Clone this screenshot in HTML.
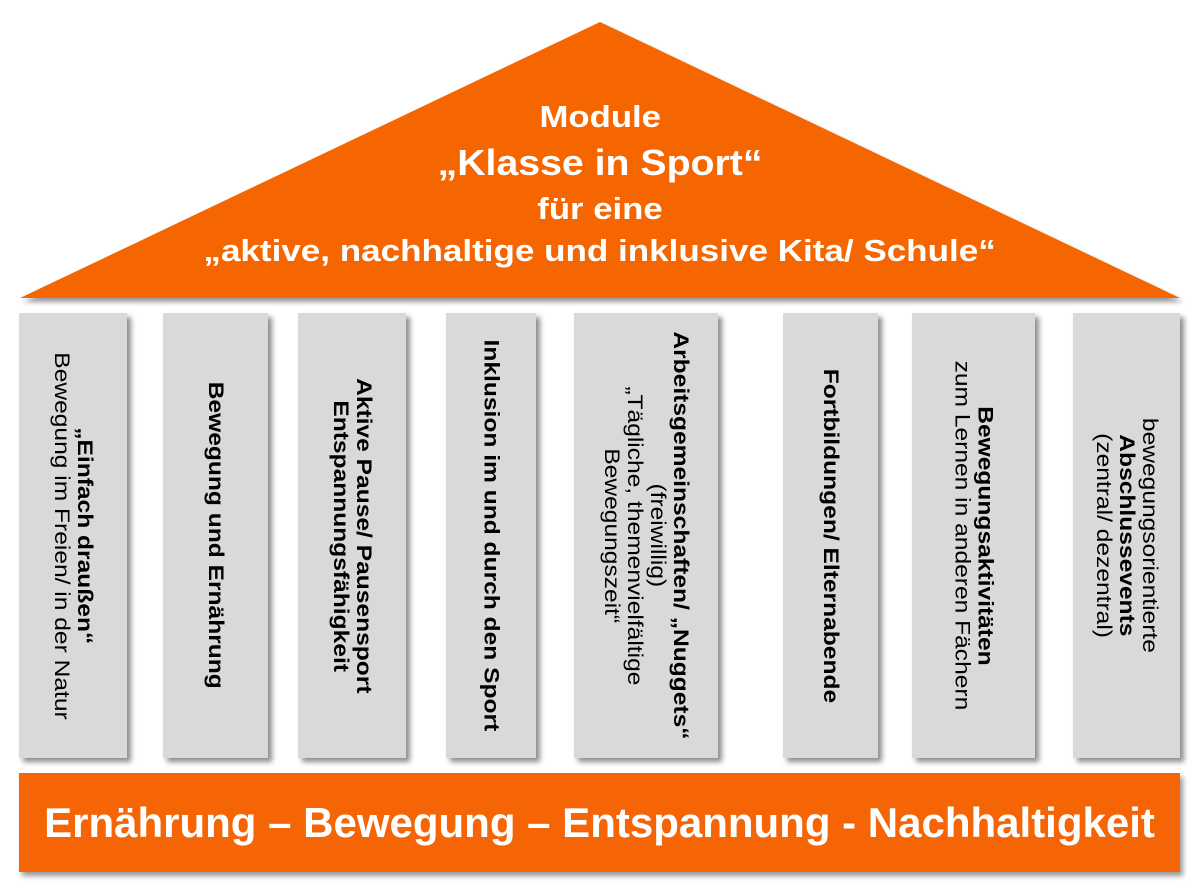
<!DOCTYPE html>
<html><head><meta charset="utf-8"><style>
html,body{margin:0;padding:0;background:#fff;width:1200px;height:892px;overflow:hidden;font-family:"Liberation Sans",Arial,sans-serif}
.roof{position:absolute;left:0;top:0}
.rt{position:absolute;left:0;width:1200px;text-align:center;color:#fff;font-weight:bold;white-space:nowrap}
.rt span{display:inline-block}
.p{position:absolute;top:313px;height:445px;background:#d9d9d9;box-shadow:4px 4px 5px rgba(0,0,0,0.45);display:flex;align-items:center;justify-content:center}
.v{writing-mode:vertical-rl;font-size:21px;line-height:23px;text-align:center;color:#000;white-space:nowrap;transform:scaleY(1.17)}
.b{font-weight:bold}
.base{position:absolute;left:19px;top:773px;width:1161px;height:99px;background:#f56505;box-shadow:3px 4px 5px rgba(0,0,0,0.4);color:#fff;font-weight:bold;font-size:42px;display:flex;align-items:center;justify-content:center;white-space:nowrap}
</style></head><body>
<svg class="roof" width="1200" height="310">
<defs><filter id="s" x="-5%" y="-5%" width="110%" height="120%"><feDropShadow dx="3" dy="4" stdDeviation="2.5" flood-color="#000" flood-opacity="0.4"/></filter></defs>
<polygon points="600,22 1180,298 20,298" fill="#f56505" filter="url(#s)"/>
</svg>
<div class="rt" style="top:99px;font-size:31px"><span style="transform:scaleX(1.12)">Module</span></div>
<div class="rt" style="top:142px;font-size:36px"><span style="transform:scaleX(1.09)">„Klasse in Sport“</span></div>
<div class="rt" style="top:191px;font-size:31px"><span style="transform:scaleX(1.12)">für eine</span></div>
<div class="rt" style="top:233px;font-size:31px"><span style="transform:scaleX(1.13)">„aktive, nachhaltige und inklusive Kita/ Schule“</span></div>

<div class="p" style="left:19px;width:108px"><div class="v"><span class="b">„Einfach draußen“</span><br>Bewegung im Freien/ in der Natur</div></div>
<div class="p" style="left:163px;width:105px"><div class="v b">Bewegung und Ernährung</div></div>
<div class="p" style="left:298px;width:108px"><div class="v b">Aktive Pause/ Pausensport<br>Entspannungsfähigkeit</div></div>
<div class="p" style="left:446px;width:90px"><div class="v b">Inklusion im und durch den Sport</div></div>
<div class="p" style="left:574px;width:144px"><div class="v"><span class="b">Arbeitsgemeinschaften/ „Nuggets“</span><br>(freiwillig)<br>„Tägliche, themenvielfältige<br>Bewegungszeit“</div></div>
<div class="p" style="left:783px;width:95px"><div class="v b">Fortbildungen/ Elternabende</div></div>
<div class="p" style="left:912px;width:123px"><div class="v"><span class="b">Bewegungsaktivitäten</span><br>zum Lernen in anderen Fächern</div></div>
<div class="p" style="left:1073px;width:107px"><div class="v">bewegungsorientierte<br><span class="b">Abschlussevents</span><br>(zentral/ dezentral)</div></div>

<div class="base">Ernährung – Bewegung – Entspannung - Nachhaltigkeit</div>
</body></html>
